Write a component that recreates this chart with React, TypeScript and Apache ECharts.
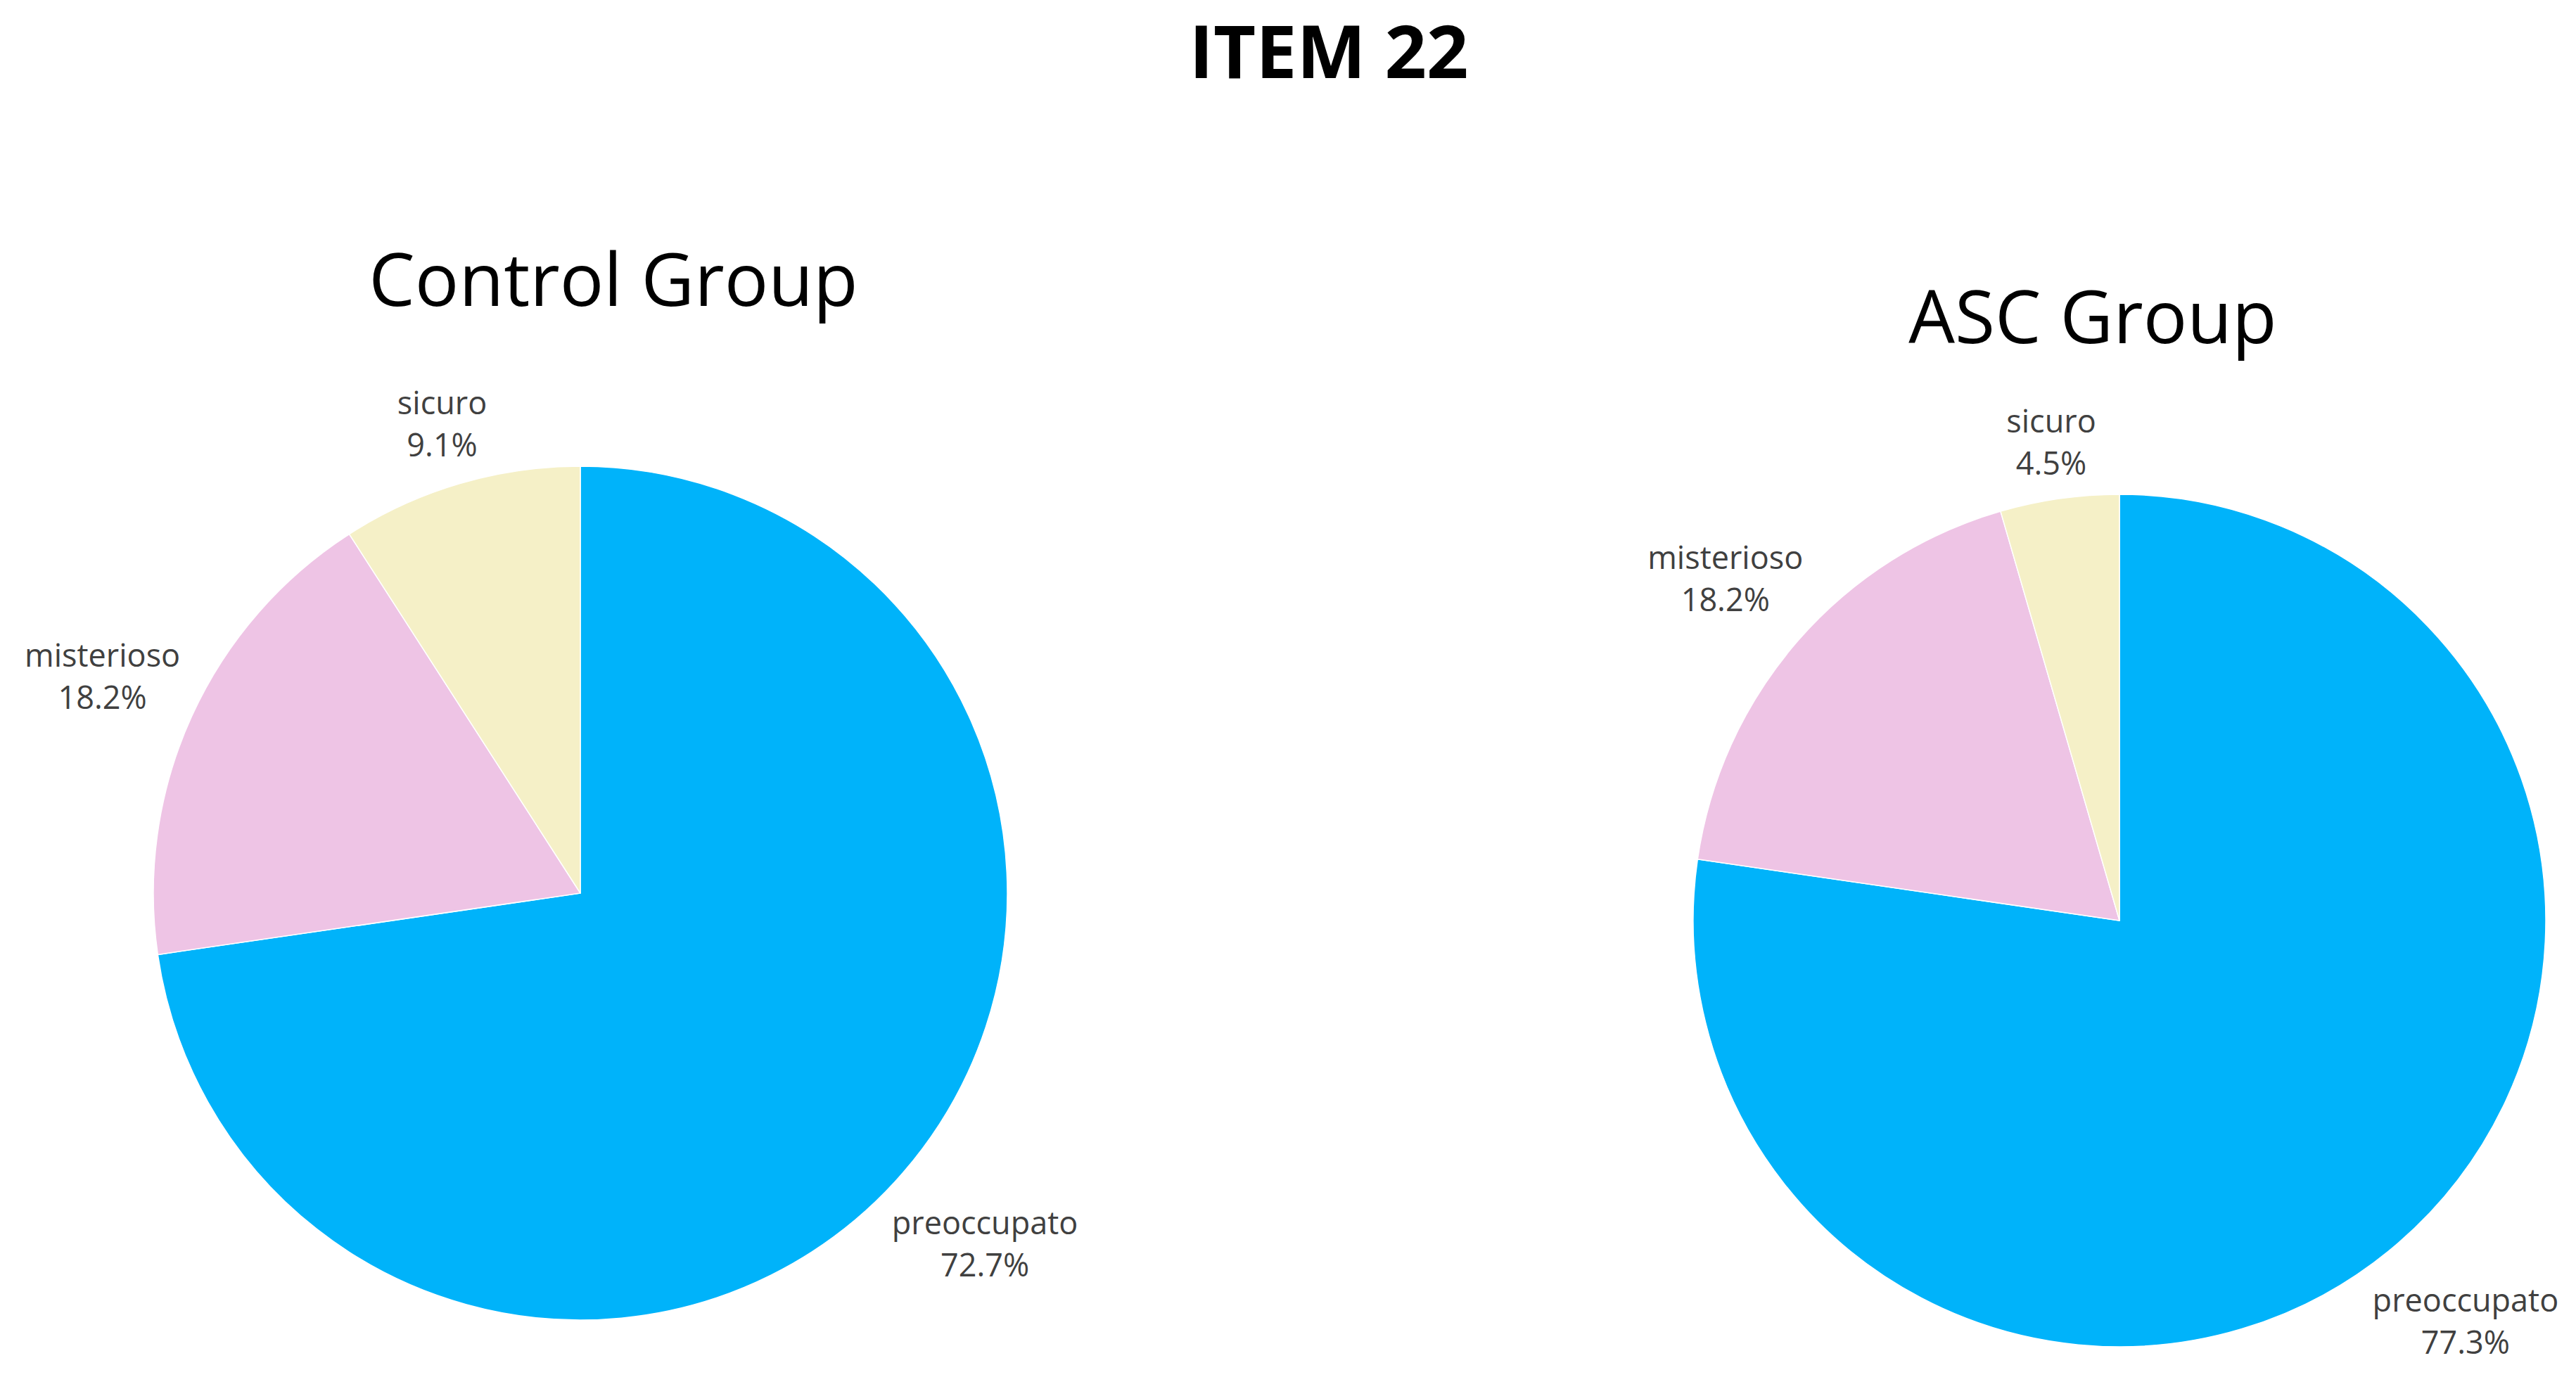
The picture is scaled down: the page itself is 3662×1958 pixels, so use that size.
import React, { useEffect, useRef } from "react";
import * as echarts from "echarts";

const mainTitle = "ITEM 22";
const groupTitles = ["Control Group", "ASC Group"];
const categories = ["preoccupato", "misterioso", "sicuro"];
const controlValues = [72.7, 18.2, 9.1];
const ascValues = [77.3, 18.2, 4.5];
const sliceColors = ["#00B3FA", "#EEC4E5", "#F5F0C7"];

const FONT = "'Open Sans', 'Noto Sans', sans-serif";

export default function App() {
  const ref = useRef<HTMLDivElement>(null);

  useEffect(() => {
    document.body.style.margin = "0";
    const el = ref.current!;
    const chart = echarts.init(el, null, { renderer: "svg" });

    const pies = [
      { name: groupTitles[0], values: controlValues, center: [825, 1270], r: 607 },
      { name: groupTitles[1], values: ascValues, center: [3013, 1309], r: 606 },
    ];

    const makeLayout = (pie: any) => (params: any) => {
      const vals: number[] = pie.values;
      const total = vals.reduce((a, b) => a + b, 0);
      let cum = 0;
      for (let i = 0; i < params.dataIndex; i++) cum += vals[i];
      const mid = (cum + vals[params.dataIndex] / 2) / total;
      const ang = mid * Math.PI * 2; // clockwise from top
      const ux = Math.sin(ang);
      const uy = -Math.cos(ang);
      const w = params.labelRect.width;
      const h = params.labelRect.height;
      const support = Math.abs(ux) * w / 2 + Math.abs(uy) * h / 2;
      const d = pie.r + 14 + support;
      return {
        x: pie.center[0] + ux * d,
        y: pie.center[1] + uy * d,
        align: "center",
        verticalAlign: "middle",
      };
    };

    chart.setOption({
      animation: false,
      backgroundColor: "#ffffff",
      graphic: [
        {
          type: "text",
          x: 1889,
          y: 70,
          style: {
            text: mainTitle,
            font: `bold 104px ${FONT}`,
            lineHeight: 104,
            fill: "#000",
            textAlign: "center",
            textVerticalAlign: "middle",
          },
        },
        {
          type: "text",
          x: 872,
          y: 394,
          style: {
            text: groupTitles[0],
            font: `104px ${FONT}`,
            fill: "#000",
            textAlign: "center",
            textVerticalAlign: "middle",
          },
        },
        {
          type: "text",
          x: 2975,
          y: 447,
          style: {
            text: groupTitles[1],
            font: `104px ${FONT}`,
            fill: "#000",
            textAlign: "center",
            textVerticalAlign: "middle",
          },
        },
      ],
      series: pies.map((p) => ({
        type: "pie",
        name: p.name,
        center: p.center,
        radius: p.r,
        startAngle: 90,
        clockwise: true,
        avoidLabelOverlap: false,
        itemStyle: { borderColor: "#ffffff", borderWidth: 1.5 },
        label: {
          show: true,
          position: "outside",
          formatter: (q: any) => `${q.name}\n${q.value.toFixed(1)}%`,
          fontFamily: FONT,
          fontSize: 45,
          lineHeight: 60,
          color: "#404040",
          align: "center",
        },
        labelLine: { show: false },
        labelLayout: makeLayout(p),
        emphasis: { disabled: true },
        data: categories.map((c, i) => ({
          name: c,
          value: p.values[i],
          itemStyle: { color: sliceColors[i] },
        })),
      })),
    });

    return () => chart.dispose();
  }, []);

  return <div ref={ref} style={{ width: 3662, height: 1958 }} />;
}
